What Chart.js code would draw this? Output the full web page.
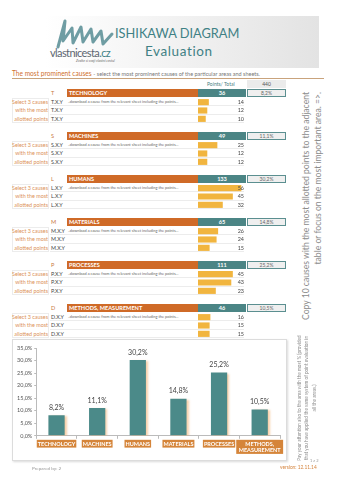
<!DOCTYPE html>
<html>
<head>
<meta charset="utf-8">
<script src="https://cdn.jsdelivr.net/npm/chart.js@4/dist/chart.umd.min.js"></script>
<style>
  html,body{margin:0;padding:0;background:#fff;}
  body{width:350px;height:495px;position:relative;overflow:hidden;font-family:Lato,"Open Sans",sans-serif;}
  .abs{position:absolute;white-space:nowrap;}
  .band{left:45px;top:16px;width:274px;height:52px;background:linear-gradient(to right,#ffffff 0%,#f4f4f4 40%,#e3e3e3 100%);}
  .title{color:#3f8185;}
  .hdr{height:8px;line-height:8px;font-size:5.6px;font-weight:bold;color:#fff;}
  .row{height:8.3px;line-height:8.3px;font-size:5.4px;}
  .vtxt{transform:rotate(-90deg);transform-origin:top left;white-space:normal;}
</style>
</head>
<body>
<div class="abs band"></div>
<svg class="abs" style="left:0;top:0" width="350" height="80">
  <polyline points="58,47 65,21 63,41 72,28 73,43 81,27 83,42 91,29 93,42 101,31 103,44 112,34" fill="none" stroke="#6f9da3" stroke-width="3" stroke-linejoin="round" stroke-linecap="round"/>
</svg>
<div class="abs" style="left:50px;top:46px;font-size:11px;letter-spacing:-0.6px;color:#5c6670;">vlastnicesta<span style="color:#3f8185">.cz</span></div>
<div class="abs" style="left:76px;top:59px;font-size:3.5px;font-style:italic;color:#666;">Zvolte si svoji vlastní cestu!</div>
<div class="abs title" style="left:115px;top:25px;font-size:12.8px;">ISHIKAWA DIAGRAM</div>
<div class="abs title" style="left:145px;top:43px;font-size:13.5px;letter-spacing:0.6px;">Evaluation</div>

<div class="abs" style="left:12px;top:69px;font-size:6.6px;color:#d0702e;">The most prominent causes <span style="font-size:5.5px;color:#777;"> - select the most prominent causes of the particular areas and sheets.</span></div>
<div class="abs" style="left:12px;top:77.5px;width:312px;height:1.5px;background:#c9a37c;"></div>

<div class="abs" style="left:207px;top:81px;font-size:5px;color:#4a7f82;">Points/ Total</div>
<div class="abs" id="grand" style="left:247px;top:80px;width:39px;height:8px;line-height:8px;background:#ebebeb;text-align:center;font-size:5px;color:#555;"></div>

<div id="table"></div>

<div class="abs" style="left:12px;top:339px;width:273px;height:120px;border:1px solid #dcdcdc;box-shadow:1px 1px 2px rgba(0,0,0,0.15);background:#fff;">
  <canvas id="main" width="273" height="120"></canvas>
</div>

<div class="abs vtxt" style="left:301px;top:332px;width:240px;height:24px;font-size:8.6px;line-height:11.5px;color:#8c8c8c;text-align:right;">Copy 10 causes with the most allotted points to the adjacent table or focus on the most important area. =&gt;.</div>
<div class="abs vtxt" style="left:296px;top:461px;width:126px;height:24px;font-size:4.7px;line-height:7.4px;color:#8c8c8c;text-align:center;">Pay your attention also to the area with the most % (provided that you have applied the same system of point evaluation in all the areas.)</div>

<div class="abs" style="left:310px;top:458px;font-size:4px;color:#999;">1 z 2</div>
<div class="abs" style="left:280px;top:464px;font-size:4.8px;color:#d5843e;">version: 12.11.14</div>
<div class="abs" style="left:32px;top:465px;font-size:4.6px;color:#999;">Prepared by: 2</div>

<script>
// ---- data ----
const areaLetters = ['T','S','L','M','P','D'];
const areaNames = ['TECHNOLOGY','MACHINES','HUMANS','MATERIALS','PROCESSES','METHODS, MEASUREMENT'];
const areaTotals = [36, 49, 133, 65, 111, 46];
const areaShares = [8.2, 11.1, 30.2, 14.8, 25.2, 10.5];
const grandTotal = 440;
const pointsT = [14, 12, 10];
const pointsS = [25, 12, 12];
const pointsL = [56, 45, 32];
const pointsM = [26, 24, 15];
const pointsP = [45, 43, 23];
const pointsD = [16, 15, 15];
const causePoints = [pointsT, pointsS, pointsL, pointsM, pointsP, pointsD];
const chartLabels = ['TECHNOLOGY','MACHINES','HUMANS','MATERIALS','PROCESSES',['METHODS,','MEASUREMENT']];
const sideLabels = ['Select 3 causes','with the most','allotted points'];
const fmtPct = v => v.toFixed(1).replace('.', ',') + '%';

document.getElementById('grand').textContent = grandTotal;

// ---- table ----
const table = document.getElementById('table');
function el(style, html, cls) {
  const d = document.createElement('div');
  d.className = 'abs' + (cls ? ' ' + cls : '');
  d.setAttribute('style', style);
  if (html !== undefined) d.innerHTML = html;
  table.appendChild(d);
  return d;
}
areaLetters.forEach((L, i) => {
  const c = 93 + i * 43;
  const top = c - 4;
  el(`left:51px;top:${top}px;font-size:5.6px;line-height:8px;color:#c8773d;`, L);
  el(`left:67px;top:${top}px;width:131px;padding-left:2px;box-sizing:border-box;background:#cf6a27;`, areaNames[i], 'hdr');
  el(`left:198px;top:${top}px;width:48px;text-align:center;background:#4b8585;`, areaTotals[i], 'hdr');
  el(`left:247px;top:${top}px;width:39px;height:8px;box-sizing:border-box;border:1px solid #5b8f90;background:#efefef;text-align:center;font-size:5px;line-height:6px;color:#666;`, fmtPct(areaShares[i]));
  el(`left:12px;top:${c+5}px;width:37px;height:25px;box-sizing:border-box;border:1px solid #ececec;`);
  for (let r = 0; r < 3; r++) {
    const rt = c + 5 + r * 8.33;
    el(`left:12px;top:${rt}px;width:36px;text-align:right;color:#dc9259;`, sideLabels[r], 'row');
    el(`left:50px;top:${rt}px;width:194px;height:8.33px;box-sizing:border-box;border-bottom:1px solid #ececec;`);
    el(`left:51px;top:${rt}px;color:#444;`, `${L}.X.Y`, 'row');
    if (r === 0) el(`left:68px;top:${rt}px;font-size:3.9px;color:#666;`, '..download a cause from the relevant sheet including the points...', 'row');
  }
  const holder = el(`left:198px;top:${c+5}px;width:48px;height:25px;`);
  const cv = document.createElement('canvas');
  cv.width = 48; cv.height = 25;
  holder.appendChild(cv);
  new Chart(cv, {
    type: 'bar',
    data: { labels: ['1','2','3'], datasets: [{ data: causePoints[i], backgroundColor: '#f1b53f', barPercentage: 0.74, categoryPercentage: 1 }] },
    options: {
      indexAxis: 'y', responsive: false, animation: false, devicePixelRatio: 1,
      layout: { padding: 0 },
      scales: { x: { display: false, min: 0, max: 62 }, y: { display: false } },
      plugins: { legend: { display: false }, tooltip: { enabled: false } }
    }
  });
  for (let r = 0; r < 3; r++) {
    el(`left:220px;top:${c + 5 + r * 8.33}px;width:24px;text-align:right;color:#444;z-index:2;`, causePoints[i][r], 'row');
  }
});

// ---- main bar chart ----
const barShadow = {
  id: 'barShadow',
  beforeDatasetDraw(chart) {
    const ctx = chart.ctx; ctx.save();
    ctx.shadowColor = 'rgba(238,170,100,0.55)';
    ctx.shadowOffsetX = 2; ctx.shadowOffsetY = 1; ctx.shadowBlur = 2;
  },
  afterDatasetDraw(chart) { chart.ctx.restore(); }
};
const valueLabels = {
  id: 'valueLabels',
  afterDatasetsDraw(chart) {
    const ctx = chart.ctx;
    const meta = chart.getDatasetMeta(0);
    ctx.save();
    ctx.font = '7px Lato, sans-serif';
    ctx.fillStyle = '#444';
    ctx.textAlign = 'center';
    ctx.textBaseline = 'bottom';
    meta.data.forEach((bar, i) => {
      ctx.fillText(fmtPct(chart.data.datasets[0].data[i]), bar.x, bar.y - 4);
    });
    ctx.restore();
  }
};
const labelBoxes = {
  id: 'labelBoxes',
  afterDraw(chart) {
    const ctx = chart.ctx;
    const xs = chart.scales.x;
    const lh = 6.3;
    ctx.save();
    ctx.font = 'bold 5.5px Lato, sans-serif';
    ctx.textAlign = 'center';
    ctx.textBaseline = 'middle';
    chart.data.labels.forEach((lab, i) => {
      const lines = Array.isArray(lab) ? lab : [lab];
      const x = xs.getPixelForValue(i);
      const w = Math.max(...lines.map(l => ctx.measureText(l).width)) + (lines.length > 1 ? 5 : 2);
      const h = lines.length * lh + 1.5;
      const y0 = xs.top + 4;
      ctx.fillStyle = '#d5853a';
      ctx.fillRect(x - w / 2, y0, w, h);
      ctx.fillStyle = '#fff';
      lines.forEach((l, k) => ctx.fillText(l, x, y0 + 1 + lh * (k + 0.5)));
    });
    ctx.restore();
  }
};
new Chart(document.getElementById('main'), {
  type: 'bar',
  data: { labels: chartLabels, datasets: [{ data: areaShares, backgroundColor: '#4b8a89', barPercentage: 0.4, categoryPercentage: 1 }] },
  options: {
    responsive: false, animation: false, devicePixelRatio: 1,
    layout: { padding: { left: 2, right: 6, top: 8, bottom: 2 } },
    scales: {
      y: {
        min: 0, max: 35,
        ticks: { stepSize: 5, callback: v => fmtPct(v), font: { size: 5.5, family: 'Lato' }, color: '#555', padding: 2 },
        grid: { display: true, drawOnChartArea: false, tickLength: 2, color: '#bbb' },
        border: { display: true, color: '#bbb' }
      },
      x: {
        ticks: { font: { size: 5.5, family: 'Lato', weight: 'bold' }, color: 'rgba(0,0,0,0)', padding: 3, maxRotation: 0, autoSkip: false },
        grid: { display: true, drawOnChartArea: false, tickLength: 3, offset: true, color: '#bbb' },
        border: { display: true, color: '#bbb' }
      }
    },
    plugins: { legend: { display: false }, tooltip: { enabled: false } }
  },
  plugins: [barShadow, valueLabels, labelBoxes]
});
</script>
</body>
</html>
